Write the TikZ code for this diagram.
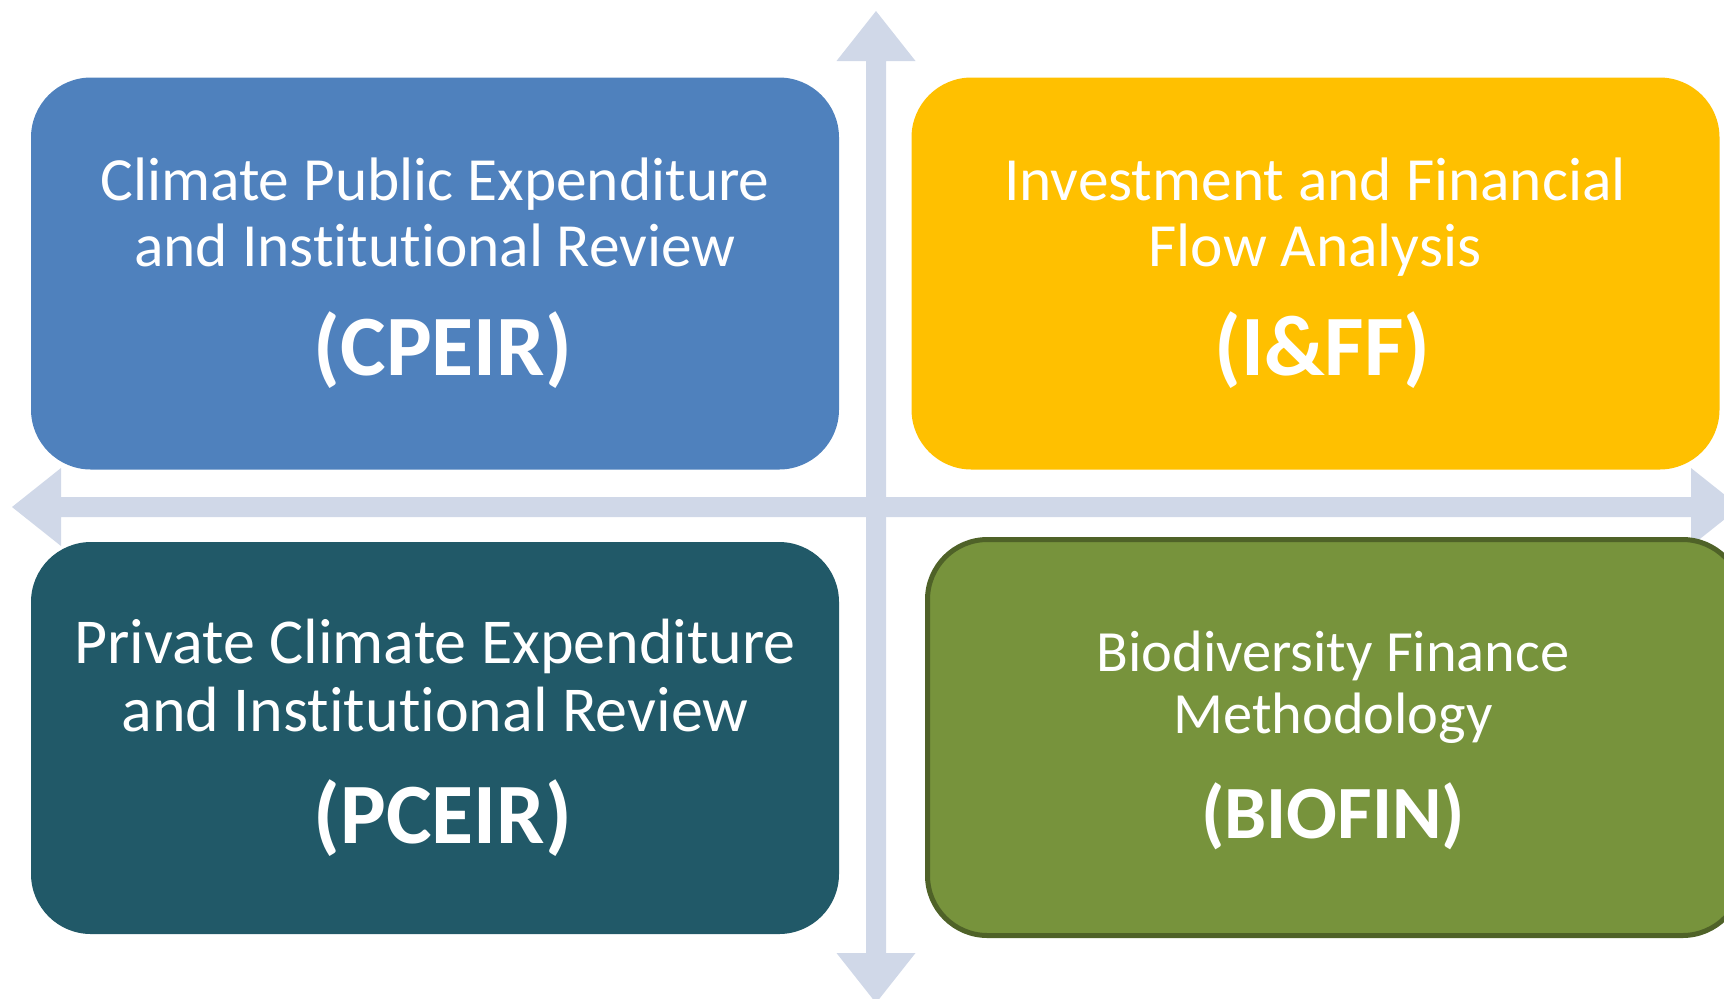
\documentclass[tikz,border=0pt]{standalone}
\usepackage{fontspec}
\setmainfont{Carlito}[Ligatures=NoCommon]
\definecolor{cblue}{HTML}{4F81BD}
\definecolor{cyellow}{HTML}{FFC000}
\definecolor{cteal}{HTML}{215968}
\definecolor{cgreen}{HTML}{77933C}
\definecolor{cgreenb}{HTML}{4F6228}
\definecolor{carrow}{HTML}{D0D8E8}
\tikzset{
  quad/.style={rounded corners=30pt, minimum width=404pt, minimum height=196pt, inner sep=0pt, draw=none},
  txt/.style={text=white, anchor=base, inner sep=0pt, font=\fontsize{30.7pt}{33pt}\selectfont},
  abbr/.style={text=white, anchor=base, inner sep=0pt, font=\fontsize{43pt}{46pt}\selectfont\bfseries},
  arrowshape/.style={fill=carrow, draw=none}
}
\begin{document}
\begin{tikzpicture}[x=0.5pt,y=-0.5pt]
\useasboundingbox (0,0) rectangle (1724,998);
% arrows
\fill[arrowshape] (866,61) -- (836.5,61) -- (876,11) -- (915.5,61) -- (886,61)
  -- (886,953) -- (915.5,953) -- (876,1003) -- (836.5,953) -- (866,953) -- cycle;
\fill[arrowshape] (61,497) -- (61,468) -- (12,507) -- (61,546) -- (61,517)
  -- (1691,517) -- (1691,546) -- (1740,507) -- (1691,468) -- (1691,497) -- cycle;
% boxes
\node[quad, fill=cblue] (cpeir) at (435,273.5) {};
\node[quad, fill=cyellow] (iff) at (1315.5,273.5) {};
\node[quad, fill=cteal] (pceir) at (435,738) {};
\node[quad, fill=cgreen, draw=cgreenb, line width=2.5pt, minimum width=407.5pt, minimum height=198pt] (biofin) at (1335,737.5) {};
% texts
\node[txt] (c1) at (435,200) {Climate Public Expenditure};
\node[txt] (c2) at (435,266) {and Institutional Review};
\node[abbr] (c3) at (443,375) {(CPEIR)};
\node[txt] (i1) at (1315,200) {Investment and Financial};
\node[txt] (i2) at (1315,266) {Flow Analysis};
\node[abbr] (i3) at (1322.5,375) {(I\&FF)};
\node[txt, font=\fontsize{32pt}{34pt}\selectfont] (p1) at (435,663) {Private Climate Expenditure};
\node[txt, font=\fontsize{32pt}{34pt}\selectfont] (p2) at (435,731) {and Institutional Review};
\node[abbr] (p3) at (443,843) {(PCEIR)};
\node[txt, font=\fontsize{29.2pt}{31pt}\selectfont] (b1) at (1333,671) {Biodiversity Finance};
\node[txt, font=\fontsize{29.2pt}{31pt}\selectfont] (b2) at (1333,733) {Methodology};
\node[abbr, font=\fontsize{37.6pt}{40pt}\selectfont\bfseries] (b3) at (1333,838) {(BIOFIN)};
\end{tikzpicture}
\end{document}
